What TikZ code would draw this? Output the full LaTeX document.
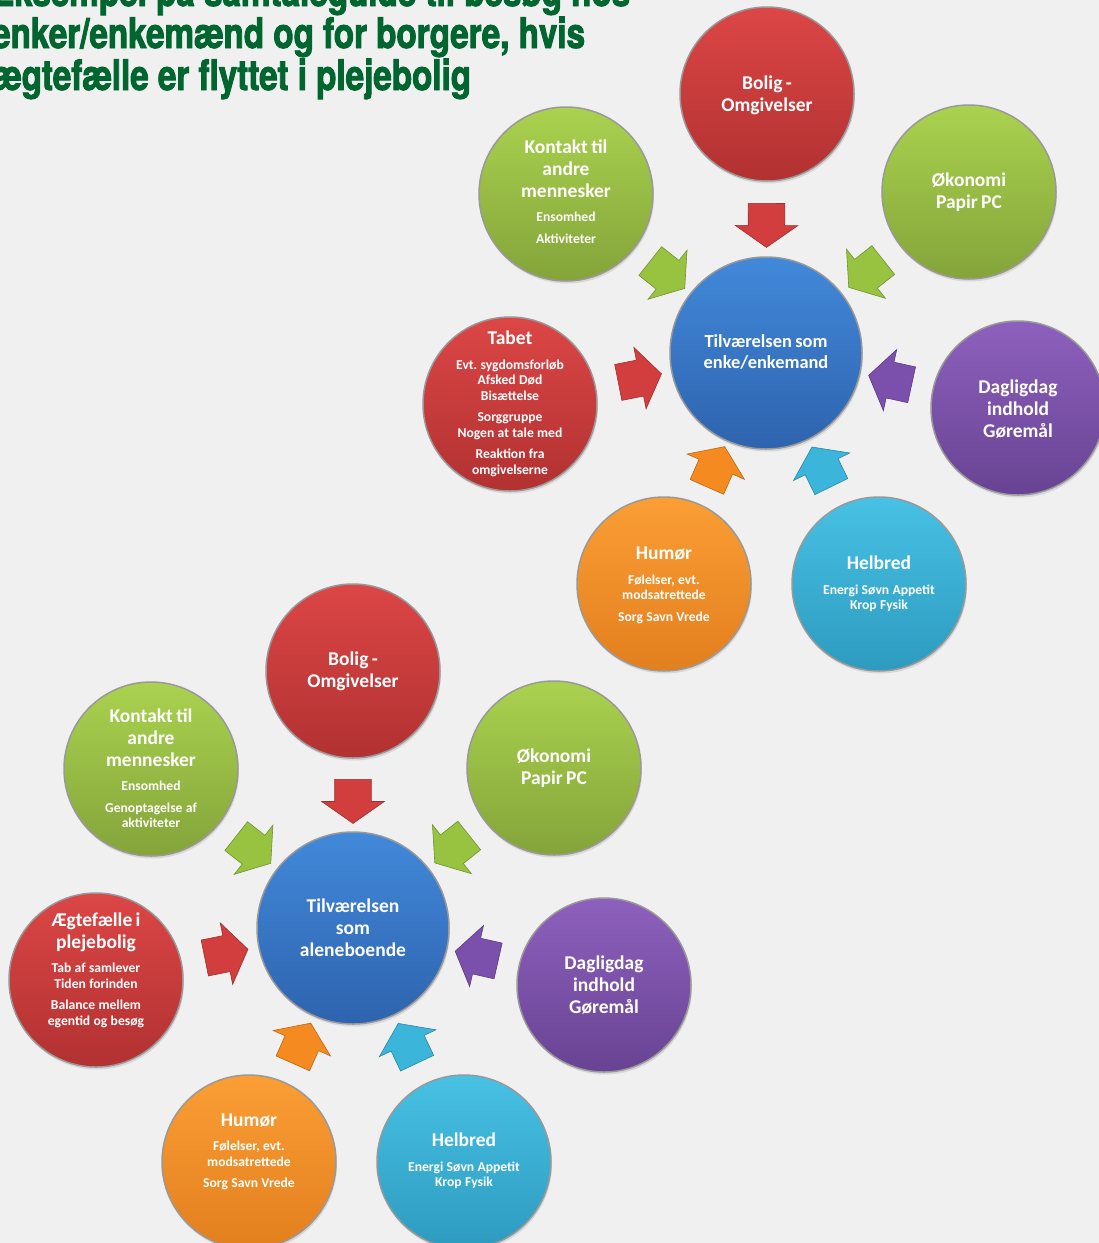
\documentclass[tikz,border=0pt]{standalone}
\usepackage{fontspec}
\setmainfont{Carlito}
\newfontfamily\titlefont[FakeStretch=0.79,BoldFeatures={FakeBold=2.2}]{TeX Gyre Heros}
\usetikzlibrary{shapes.arrows,shadows}
\frenchspacing

\definecolor{bg}{HTML}{F0F0F0}
\definecolor{titlegreen}{HTML}{00652E}
\definecolor{blueT}{HTML}{4289DA}
\definecolor{blueB}{HTML}{2E63AE}
\definecolor{redT}{HTML}{DC4646}
\definecolor{redB}{HTML}{B23131}
\definecolor{greenT}{HTML}{AAD24F}
\definecolor{greenB}{HTML}{84A43A}
\definecolor{purpleT}{HTML}{8D60BD}
\definecolor{purpleB}{HTML}{684393}
\definecolor{orangeT}{HTML}{FB9E35}
\definecolor{orangeB}{HTML}{E27F1E}
\definecolor{cyanT}{HTML}{47C1E4}
\definecolor{cyanB}{HTML}{2D9BBF}
\definecolor{redA}{HTML}{D23E3E}
\definecolor{greenA}{HTML}{98C341}
\definecolor{purpleA}{HTML}{7B50AC}
\definecolor{orangeA}{HTML}{F58B20}
\definecolor{cyanA}{HTML}{3BB5DA}

% text helpers for the circles: heading, first detail block, further detail blocks
\newcommand\headtx[1]{{\fontsize{19.5}{22}\selectfont #1\par}}
\newcommand\leadtx[1]{\vspace{9pt}{\fontsize{13.6}{15.5}\selectfont #1\par}}
\newcommand\subtx[1]{\vspace{6pt}{\fontsize{13.6}{15.5}\selectfont #1\par}}
\newcommand\midtx[1]{{\fontsize{18.4}{21}\selectfont #1\par}}

\tikzset{
  ball/.style={circle, minimum size=174pt, inner sep=0pt,
    draw=black!40, line width=1.5pt,
    drop shadow={opacity=0.22, shadow xshift=1pt, shadow yshift=-2.5pt}},
  bigball/.style={ball, minimum size=192pt},
  redball/.style={ball, top color=redT, bottom color=redB},
  greenball/.style={ball, top color=greenT, bottom color=greenB},
  purpleball/.style={ball, top color=purpleT, bottom color=purpleB},
  orangeball/.style={ball, top color=orangeT, bottom color=orangeB},
  cyanball/.style={ball, top color=cyanT, bottom color=cyanB},
  blueball/.style={bigball, top color=blueT, bottom color=blueB},
  txt/.style={text=white, font=\bfseries, text width=160pt, align=center, inner sep=0pt},
  blockarrow/.style={single arrow, sloped, allow upside down,
    inner xsep=0pt, inner ysep=18pt, minimum height=44pt,
    single arrow head extend=13pt, single arrow tip angle=110,
    fill=#1, draw=#1!75!black, line width=0.6pt},
  headline/.style={anchor=base west, inner sep=0pt, text=titlegreen,
    font=\titlefont\bfseries\fontsize{42}{42}\selectfont},
}

\begin{document}
\begin{tikzpicture}[x=1pt, y=-1pt]
\useasboundingbox (0,0) rectangle (1099,1243);
\fill[bg] (0,0) rectangle (1099,1243);
\clip (0,0) rectangle (1099,1243);

% heading
\node[headline] (title1) at (-8,6) {Eksempel på samtaleguide til besøg hos};
\node[headline] (title2) at (-8,48) {enker/enkemænd og for borgere, hvis};
\node[headline] (title3) at (-8,90) {ægtefælle er flyttet i plejebolig};

% ---- upper wheel: widow / widower ----
\node[blueball]   (t-ctr)     at (766,353)  {};
\node[redball]    (t-bolig)   at (767,94)   {};
\node[greenball]  (t-kontakt) at (566,194)  {};
\node[greenball]  (t-okonomi) at (969,192)  {};
\node[redball]    (t-tabet)   at (510,404)  {};
\node[purpleball] (t-dag)     at (1018,408) {};
\node[orangeball] (t-humor)   at (664,584)  {};
\node[cyanball]   (t-helbred) at (879,584)  {};

\node[txt] (t-ctr-l)     at ([yshift=1pt]t-ctr.center) {\midtx{Tilværelsen som\\enke/enkemand}};
\node[txt] (t-bolig-l)   at ([yshift=-1pt]t-bolig.center) {\headtx{Bolig -\\Omgivelser}};
\node[txt] (t-kontakt-l) at ([yshift=2.5pt]t-kontakt.center)
  {\headtx{Kontakt til\\andre\\mennesker}\leadtx{Ensomhed}\subtx{Aktiviteter}};
\node[txt] (t-okonomi-l) at (t-okonomi) {\headtx{Økonomi\\Papir PC}};
\node[txt] (t-tabet-l)   at (t-tabet)
  {\headtx{Tabet}\leadtx{Evt. sygdomsforløb\\Afsked Død\\Bisættelse}\subtx{Sorggruppe\\Nogen at tale med}\subtx{Reaktion fra\\omgivelserne}};
\node[txt] (t-dag-l)     at ([yshift=-1.5pt]t-dag.center) {\headtx{Dagligdag\\indhold\\Gøremål}};
\node[txt] (t-humor-l)   at ([yshift=-1.5pt]t-humor.center)
  {\headtx{Humør}\leadtx{Følelser, evt.\\modsatrettede}\subtx{Sorg Savn Vrede}};
\node[txt] (t-helbred-l) at (t-helbred)
  {\headtx{Helbred}\leadtx{Energi Søvn Appetit\\Krop Fysik}};

\path (t-bolig)   -- node[blockarrow=redA]    {} (t-ctr);
\path (t-kontakt) -- node[blockarrow=greenA]  {} (t-ctr);
\path (t-okonomi) -- node[blockarrow=greenA]  {} (t-ctr);
\path (t-tabet)   -- node[blockarrow=redA]    {} (t-ctr);
\path (t-dag)     -- node[blockarrow=purpleA] {} (t-ctr);
\path (t-humor)   -- node[blockarrow=orangeA] {} (t-ctr);
\path (t-helbred) -- node[blockarrow=cyanA]   {} (t-ctr);

% ---- lower wheel: living alone ----
\node[blueball]   (b-ctr)     at (353,928)  {};
\node[redball]    (b-bolig)   at (353,671)  {};
\node[greenball]  (b-kontakt) at (151,769)  {};
\node[greenball]  (b-okonomi) at (554,768)  {};
\node[redball]    (b-aegte)   at (96,980)   {};
\node[purpleball] (b-dag)     at (604,985)  {};
\node[orangeball] (b-humor)   at (249,1162) {};
\node[cyanball]   (b-helbred) at (464,1162) {};

\node[txt] (b-ctr-l)     at (b-ctr) {\headtx{Tilværelsen\\som\\aleneboende}};
\node[txt] (b-bolig-l)   at (b-bolig) {\headtx{Bolig -\\Omgivelser}};
\node[txt] (b-kontakt-l) at ([yshift=1pt]b-kontakt.center)
  {\headtx{Kontakt til\\andre\\mennesker}\leadtx{Ensomhed}\subtx{Genoptagelse af\\aktiviteter}};
\node[txt] (b-okonomi-l) at (b-okonomi) {\headtx{Økonomi\\Papir PC}};
\node[txt] (b-aegte-l)   at ([yshift=10pt]b-aegte.center)
  {\headtx{Ægtefælle i\\plejebolig}\leadtx{Tab af samlever\\Tiden forinden}\subtx{Balance mellem\\egentid og besøg}};
\node[txt] (b-dag-l)     at (b-dag) {\headtx{Dagligdag\\indhold\\Gøremål}};
\node[txt] (b-humor-l)   at ([yshift=10pt]b-humor.center)
  {\headtx{Humør}\leadtx{Følelser, evt.\\modsatrettede}\subtx{Sorg Savn Vrede}};
\node[txt] (b-helbred-l) at ([yshift=1pt]b-helbred.center)
  {\headtx{Helbred}\leadtx{Energi Søvn Appetit\\Krop Fysik}};

\path (b-bolig)   -- node[blockarrow=redA]    {} (b-ctr);
\path (b-kontakt) -- node[blockarrow=greenA]  {} (b-ctr);
\path (b-okonomi) -- node[blockarrow=greenA]  {} (b-ctr);
\path (b-aegte)   -- node[blockarrow=redA]    {} (b-ctr);
\path (b-dag)     -- node[blockarrow=purpleA] {} (b-ctr);
\path (b-humor)   -- node[blockarrow=orangeA] {} (b-ctr);
\path (b-helbred) -- node[blockarrow=cyanA]   {} (b-ctr);
\end{tikzpicture}
\end{document}
